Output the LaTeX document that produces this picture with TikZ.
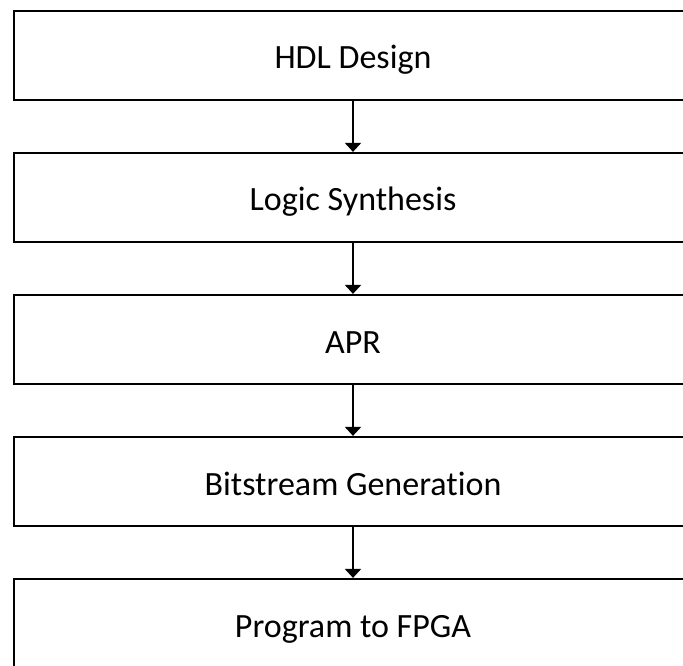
\documentclass[tikz,border=0pt]{standalone}
\usepackage{fontspec}
\setmainfont[Ligatures={NoCommon}]{Carlito}
\usetikzlibrary{arrows.meta}
\begin{document}
\begin{tikzpicture}[x=1pt,y=1pt,
  stage/.style={draw=black, line width=2.2pt, fill=white, minimum width=678pt,
    minimum height=89pt, inner sep=0pt, text height=27pt, text depth=0pt,
    font=\fontsize{34}{40}\selectfont},
  flow/.style={draw=black, line width=2pt,
    -{Triangle[width=16pt,length=9pt]}}]
  \useasboundingbox (0,0) rectangle (683,-666);
  \node[stage] (hdl)  at (353,-55.5)  {HDL Design};
  \node[stage] (syn)  at (353,-197.5) {Logic Synthesis};
  \node[stage] (apr)  at (353,-339.5) {APR};
  \node[stage] (bit)  at (353,-481.5) {Bitstream Generation};
  \node[stage] (prog) at (353,-623.5) {Program to FPGA};
  \draw[flow] (hdl.south) -- (syn.north);
  \draw[flow] (syn.south) -- (apr.north);
  \draw[flow] (apr.south) -- (bit.north);
  \draw[flow] (bit.south) -- (prog.north);
\end{tikzpicture}
\end{document}
